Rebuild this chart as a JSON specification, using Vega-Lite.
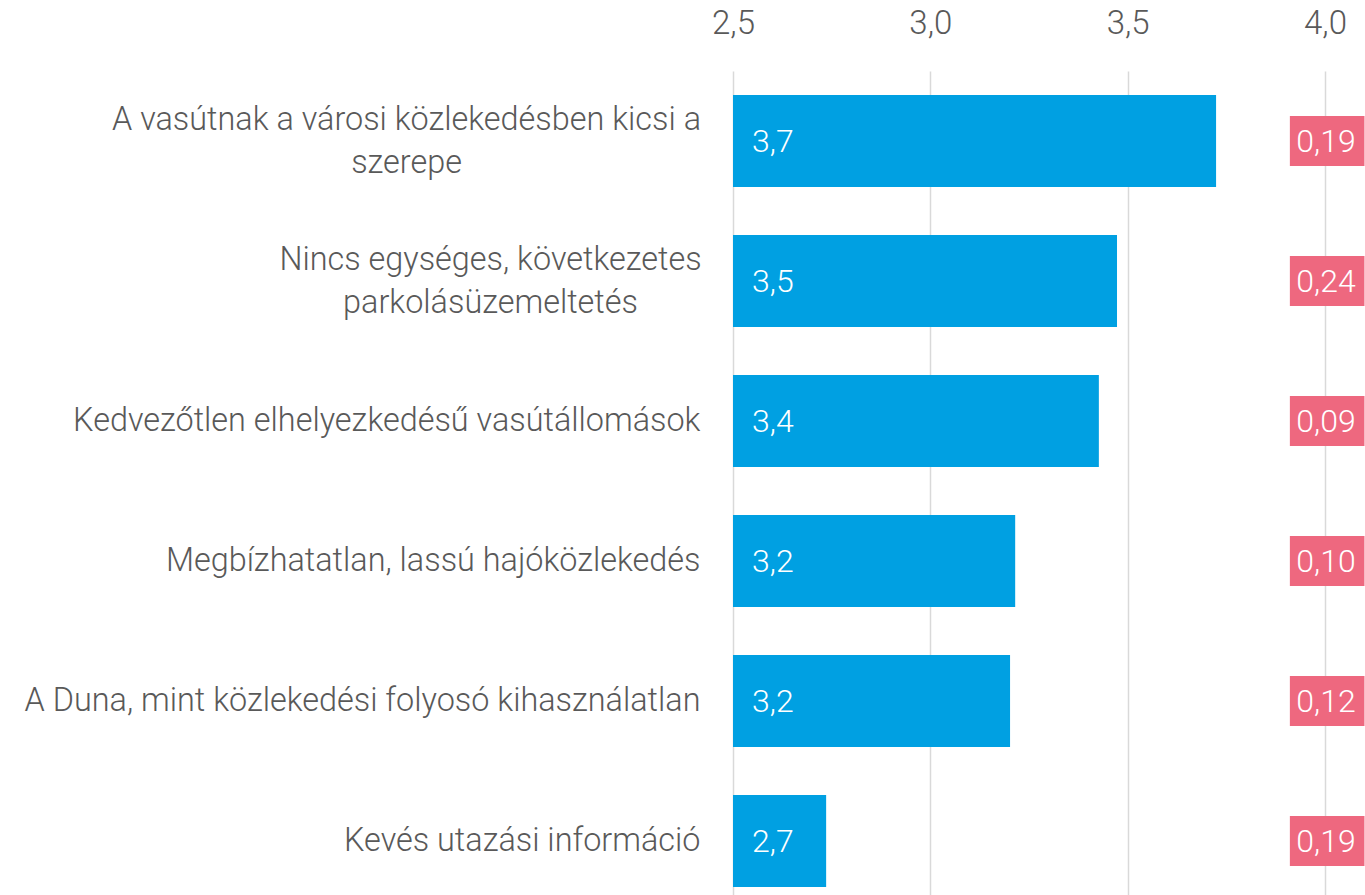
{
  "$schema": "https://vega.github.io/schema/vega-lite/v6.json",
  "width": 592,
  "height": 840,
  "autosize": {"type": "none"},
  "padding": {"left": 733, "top": 71, "right": 40, "bottom": 0},
  "background": "white",
  "config": {
    "view": {"stroke": null},
    "font": "Roboto",
    "locale": {"number": {"decimal": ",", "thousands": " ", "grouping": [3], "currency": ["", " Ft"]}}
  },
  "data": {
    "values": [
      {"cat": "A vasútnak a városi közlekedésben kicsi a|szerepe", "value": 3.724, "sd": 0.19},
      {"cat": "Nincs egységes, következetes|parkolásüzemeltetés", "value": 3.473, "sd": 0.24},
      {"cat": "Kedvezőtlen elhelyezkedésű vasútállomások", "value": 3.427, "sd": 0.09},
      {"cat": "Megbízhatatlan, lassú hajóközlekedés", "value": 3.215, "sd": 0.10},
      {"cat": "A Duna, mint közlekedési folyosó kihasználatlan", "value": 3.202, "sd": 0.12},
      {"cat": "Kevés utazási információ", "value": 2.736, "sd": 0.19}
    ]
  },
  "encoding": {
    "y": {
      "field": "cat",
      "type": "nominal",
      "sort": null,
      "title": null,
      "scale": {"paddingInner": 0.343, "paddingOuter": 0.1715},
      "axis": {
        "domain": false,
        "ticks": false,
        "tickSize": 0,
        "labelExpr": "split(datum.value, '|')",
        "labelFontSize": 32.4,
        "labelFontWeight": 300,
        "labelColor": "#595959",
        "labelLineHeight": 43,
        "labelLimit": 800,
        "labelBaseline": "middle",
        "labelAlign": {
          "condition": {"test": "indexof(datum.value, '|') >= 0", "value": "center"},
          "value": "right"
        },
        "labelOffset": {
          "condition": {"test": "indexof(datum.value, '|') >= 0", "value": -21},
          "value": 0
        },
        "labelPadding": {
          "condition": [
            {"test": "indexof(datum.value, 'A vasútnak') == 0", "value": 327},
            {"test": "indexof(datum.value, 'Nincs') == 0", "value": 243}
          ],
          "value": 33
        }
      }
    }
  },
  "layer": [
    {
      "mark": {"type": "bar", "color": "#00A0E2"},
      "encoding": {
        "x": {
          "field": "value",
          "type": "quantitative",
          "title": null,
          "scale": {"domain": [2.5, 4.0], "zero": false, "nice": false},
          "axis": {
            "orient": "top",
            "values": [2.5, 3.0, 3.5, 4.0],
            "format": ".1f",
            "domain": false,
            "ticks": false,
            "tickSize": 0,
            "labelFlush": false,
            "labelFontSize": 33,
            "labelFontWeight": 300,
            "labelColor": "#595959",
            "labelBaseline": "alphabetic",
            "labelPadding": 38,
            "grid": true,
            "gridColor": "#d9d9d9",
            "gridWidth": 1.5
          }
        },
        "x2": {"datum": 2.5}
      }
    },
    {
      "mark": {"type": "bar", "color": "#EE687F", "size": 50},
      "encoding": {
        "x": {"datum": 3.911},
        "x2": {"datum": 4.1}
      }
    },
    {
      "mark": {"type": "text", "align": "left", "baseline": "middle", "dx": 19, "dy": 1, "color": "white", "fontSize": 32, "fontWeight": 300},
      "encoding": {
        "x": {"datum": 2.5},
        "text": {"field": "value", "type": "quantitative", "format": ".1f"}
      }
    },
    {
      "mark": {"type": "text", "align": "center", "baseline": "middle", "dx": 1, "dy": 1, "color": "white", "fontSize": 32, "fontWeight": 300},
      "encoding": {
        "x": {"datum": 4.0},
        "text": {"field": "sd", "type": "quantitative", "format": ".2f"}
      }
    }
  ]
}
